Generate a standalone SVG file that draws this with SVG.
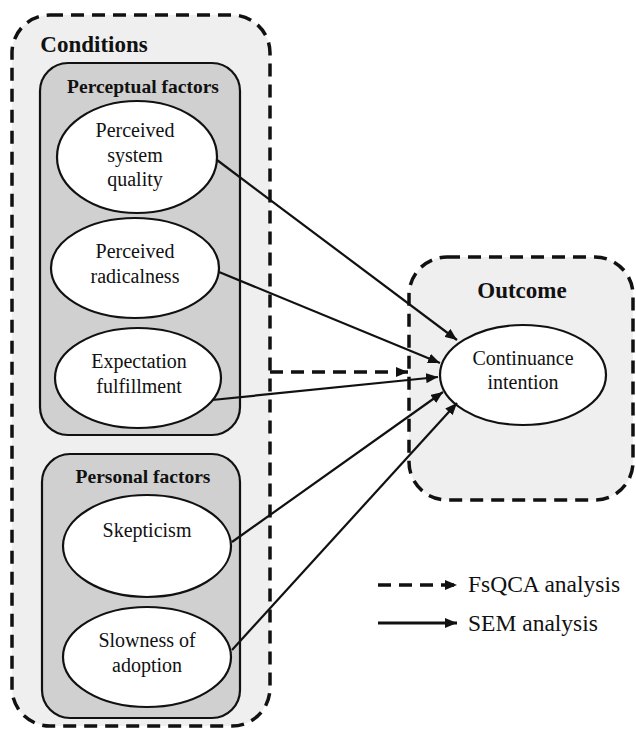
<svg xmlns="http://www.w3.org/2000/svg" width="636" height="735" viewBox="0 0 636 735">
<defs>
<marker id="ah" viewBox="0 0 12 10" refX="12" refY="5" markerWidth="12" markerHeight="10" markerUnits="userSpaceOnUse" orient="auto">
<path d="M0,0 L12,5 L0,10 Z" fill="#111"/>
</marker>
</defs>
<style>
.outer{fill:#efefef;stroke:#111;stroke-width:3.5;stroke-dasharray:13 8}
.inner{fill:#d0d0d0;stroke:#111;stroke-width:2.2}
.ell{fill:#fff;stroke:#111;stroke-width:2.2}
text{font-family:'Liberation Serif','Times New Roman','DejaVu Serif',serif;fill:#111}
.t{text-anchor:middle}
.lbl{font-size:20px}
.h1{font-size:23px;font-weight:bold}
.h2{font-size:19.5px;font-weight:bold}
.leg{font-size:23.5px}
.sol{stroke:#111;stroke-width:2.2;fill:none;marker-end:url(#ah)}
.dash{stroke:#111;stroke-width:3.5;fill:none;stroke-dasharray:13 8;marker-end:url(#ah)}
</style>
<rect width="636" height="735" fill="#fff"/>
<g id="conditions">
<rect class="outer" x="12" y="15" width="258" height="711" rx="38"/>
<text class="t h1" x="94" y="52">Conditions</text>
</g>
<g id="perceptual">
<rect class="inner" x="40" y="63" width="200" height="372" rx="28"/>
<text class="t h2" x="143" y="93">Perceptual factors</text>
</g>
<g id="personal">
<rect class="inner" x="42" y="454" width="198" height="264" rx="28"/>
<text class="t h2" x="143" y="483">Personal factors</text>
</g>
<g id="psq">
<ellipse class="ell" cx="137" cy="157" rx="80" ry="56"/>
<text class="t lbl" x="135" y="137">Perceived</text>
<text class="t lbl" x="135" y="162">system</text>
<text class="t lbl" x="135" y="186">quality</text>
</g>
<g id="pr">
<ellipse class="ell" cx="135" cy="268" rx="84" ry="50"/>
<text class="t lbl" x="135" y="258">Perceived</text>
<text class="t lbl" x="135" y="283">radicalness</text>
</g>
<g id="ef">
<ellipse class="ell" cx="138" cy="378" rx="83" ry="50"/>
<text class="t lbl" x="139" y="368">Expectation</text>
<text class="t lbl" x="139" y="393">fulfillment</text>
</g>
<g id="sk">
<ellipse class="ell" cx="147" cy="546" rx="84" ry="51"/>
<text class="t lbl" x="147" y="537">Skepticism</text>
</g>
<g id="sa">
<ellipse class="ell" cx="147" cy="657" rx="84" ry="50"/>
<text class="t lbl" x="147" y="647">Slowness of</text>
<text class="t lbl" x="147" y="672">adoption</text>
</g>
<g id="outcome">
<rect class="outer" x="409" y="257" width="224" height="243" rx="38"/>
<text class="t h1" x="522" y="298">Outcome</text>
</g>
<g id="ci">
<ellipse class="ell" cx="523" cy="375" rx="83" ry="50"/>
<text class="t lbl" x="523" y="365">Continuance</text>
<text class="t lbl" x="523" y="389">intention</text>
</g>
<g id="connectors">
<line class="sol" x1="217" y1="160" x2="457" y2="340"/>
<line class="sol" x1="219" y1="272" x2="440" y2="363"/>
<line class="sol" x1="212" y1="400" x2="438" y2="377"/>
<line class="dash" x1="270" y1="372" x2="408" y2="372"/>
<line class="sol" x1="232" y1="542" x2="443" y2="392"/>
<line class="sol" x1="232" y1="650" x2="457" y2="403"/>
</g>
<g id="legend">
<line class="dash" x1="378" y1="585" x2="457" y2="585"/>
<text class="leg" x="468" y="592">FsQCA analysis</text>
<line class="sol" x1="378" y1="623" x2="457" y2="623" style="stroke-width:3"/>
<text class="leg" x="468" y="631">SEM analysis</text>
</g>
</svg>
